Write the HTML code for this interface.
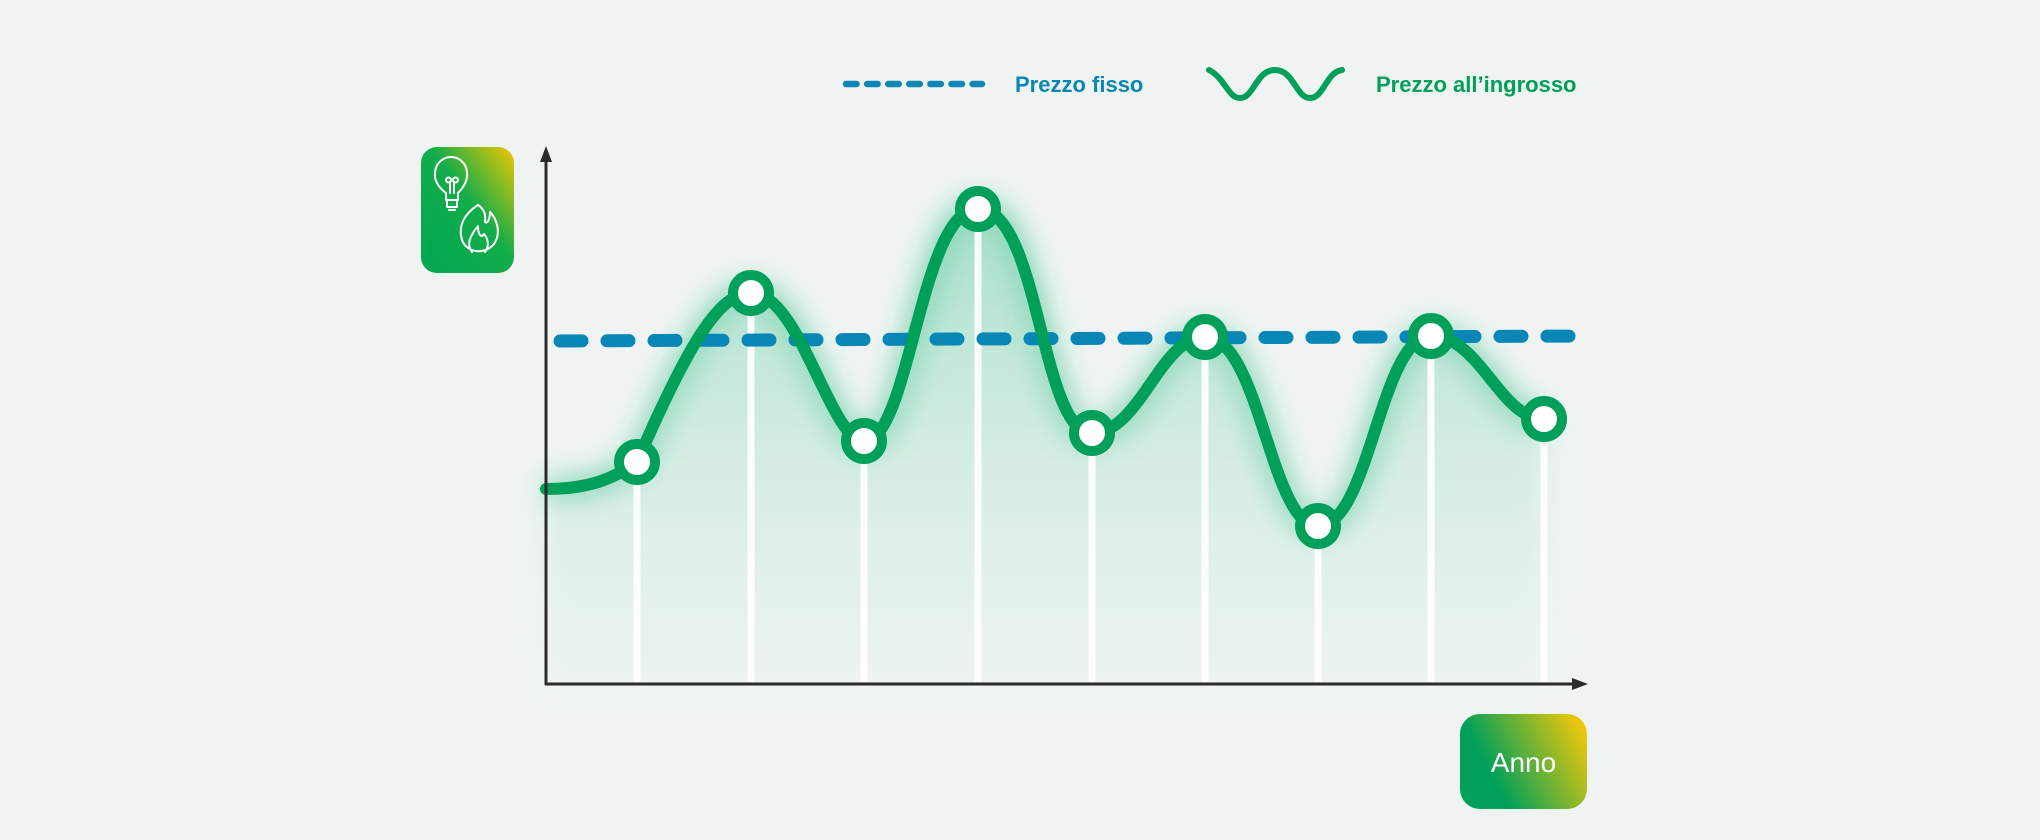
<!DOCTYPE html>
<html><head><meta charset="utf-8"><style>
html,body{margin:0;padding:0;background:#eff4f2;}
body{width:2040px;height:840px;overflow:hidden;position:relative;font-family:"Liberation Sans",sans-serif;}
</style></head><body>
<svg width="2040" height="840" viewBox="0 0 2040 840" xmlns="http://www.w3.org/2000/svg" style="position:absolute;left:0;top:0">
<defs>
<linearGradient id="fillg" x1="0" y1="0" x2="0" y2="1">
<stop offset="0" stop-color="#3cc08a" stop-opacity="0.4"/>
<stop offset="0.5" stop-color="#6fd0a8" stop-opacity="0.22"/>
<stop offset="1" stop-color="#cde9dc" stop-opacity="0.1"/>
</linearGradient>
<linearGradient id="boxg" x1="0" y1="1" x2="1" y2="0">
<stop offset="0" stop-color="#00a655"/>
<stop offset="0.55" stop-color="#13ad4a"/>
<stop offset="1" stop-color="#f0c800"/>
</linearGradient>
<linearGradient id="annog" x1="0" y1="0.6" x2="1" y2="0.2">
<stop offset="0.2" stop-color="#00a05a"/>
<stop offset="1" stop-color="#f0c80a"/>
</linearGradient>
<filter id="blur" x="-10%" y="-10%" width="120%" height="120%"><feGaussianBlur stdDeviation="14"/></filter>
<filter id="glow" x="-10%" y="-20%" width="120%" height="140%"><feGaussianBlur stdDeviation="12"/></filter>
</defs>

<path filter="url(#blur)" fill="url(#fillg)" d="M546 489 C590 489 615 478 637 462 C690 340 720 293 751 293 C800 293 830 441 864 441 C910 441 920 209 978 209 C1040 209 1040 433 1092 433 C1140 433 1160 337 1205 337 C1260 337 1270 526 1318 526 C1370 526 1380 336 1431 336 C1480 336 1500 419 1544 419 L1544 684 L546 684 Z"/>
<path filter="url(#glow)" fill="none" stroke="#3cc08a" stroke-opacity="0.45" stroke-width="26" d="M546 489 C590 489 615 478 637 462 C690 340 720 293 751 293 C800 293 830 441 864 441 C910 441 920 209 978 209 C1040 209 1040 433 1092 433 C1140 433 1160 337 1205 337 C1260 337 1270 526 1318 526 C1370 526 1380 336 1431 336 C1480 336 1500 419 1544 419"/>

<g stroke="#ffffff" stroke-width="7" opacity="0.9">
<line x1="637" y1="462" x2="637" y2="682"/>
<line x1="751" y1="293" x2="751" y2="682"/>
<line x1="864" y1="441" x2="864" y2="682"/>
<line x1="978" y1="209" x2="978" y2="682"/>
<line x1="1092" y1="433" x2="1092" y2="682"/>
<line x1="1205" y1="337" x2="1205" y2="682"/>
<line x1="1318" y1="526" x2="1318" y2="682"/>
<line x1="1431" y1="336" x2="1431" y2="682"/>
<line x1="1544" y1="419" x2="1544" y2="682"/>
</g>

<line x1="560" y1="341" x2="1582" y2="336" stroke="#0886b6" stroke-width="13" stroke-linecap="round" stroke-dasharray="22 25"/>

<path fill="none" stroke="#00a05a" stroke-width="12" stroke-linecap="round" d="M546 489 C590 489 615 478 637 462 C690 340 720 293 751 293 C800 293 830 441 864 441 C910 441 920 209 978 209 C1040 209 1040 433 1092 433 C1140 433 1160 337 1205 337 C1260 337 1270 526 1318 526 C1370 526 1380 336 1431 336 C1480 336 1500 419 1544 419"/>

<g fill="#ffffff" stroke="#00a05a" stroke-width="10">
<circle cx="637" cy="462" r="18"/>
<circle cx="751" cy="293" r="18"/>
<circle cx="864" cy="441" r="18"/>
<circle cx="978" cy="209" r="18"/>
<circle cx="1092" cy="433" r="18"/>
<circle cx="1205" cy="337" r="18"/>
<circle cx="1318" cy="526" r="18"/>
<circle cx="1431" cy="336" r="18"/>
<circle cx="1544" cy="419" r="18"/>
</g>

<line x1="546" y1="158" x2="546" y2="685" stroke="#2b2b2b" stroke-width="3"/>
<polygon points="546,146 540,162 552,162" fill="#2b2b2b"/>
<line x1="545" y1="684" x2="1576" y2="684" stroke="#2b2b2b" stroke-width="3"/>
<polygon points="1588,684 1572,678 1572,690" fill="#2b2b2b"/>

<line x1="846" y1="84" x2="982" y2="84" stroke="#0886b6" stroke-width="6.5" stroke-linecap="round" stroke-dasharray="10.5 10.6"/>
<text x="1015" y="92" font-family="Liberation Sans, sans-serif" font-weight="bold" font-size="22" fill="#0886b6">Prezzo fisso</text>
<path d="M1209 70 C1225 78 1228 98 1240 98 C1254 98 1256 70 1275 70 C1294 70 1296 98 1310 98 C1324 98 1326 72 1342 70" fill="none" stroke="#00a05a" stroke-width="6" stroke-linecap="round"/>
<text x="1376" y="92" font-family="Liberation Sans, sans-serif" font-weight="bold" font-size="22" fill="#00a05a">Prezzo all’ingrosso</text>

<rect x="421" y="147" width="93" height="126" rx="16" fill="url(#boxg)"/>
<g fill="none" stroke="#ffffff" stroke-width="2" stroke-linecap="round" stroke-linejoin="round">
<path d="M446 200 L446 193 C438 187 434 180 435 172 C436 163 443 157 451 157 C459 157 466 163 467 172 C468 180 464 187 458 193 L458 200 Z"/>
<path d="M447 200 L447 207 L457 207 L457 200 M449 210 L455 210"/>
<path d="M450 193 L450 182 M454 193 L454 182 M446 180 a2.5 2.5 0 1 0 5 0 a2.5 2.5 0 1 0 -5 0 M453 180 a2.5 2.5 0 1 0 5 0 a2.5 2.5 0 1 0 -5 0"/>
<path d="M478 205 C464 214 458 226 462 240 C466 252 484 256 494 244 C502 232 496 218 490 212 C490 220 487 224 485 222 C486 214 484 209 478 205 Z"/>
<path d="M472 252 C466 244 470 236 478 226 C478 236 482 238 484 234 C489 240 489 247 485 252"/>
</g>

<rect x="1460" y="714" width="127" height="95" rx="20" fill="url(#annog)"/>
<text x="1523.5" y="772" text-anchor="middle" font-family="Liberation Sans, sans-serif" font-size="28" fill="#ffffff">Anno</text>
</svg>
</body></html>
